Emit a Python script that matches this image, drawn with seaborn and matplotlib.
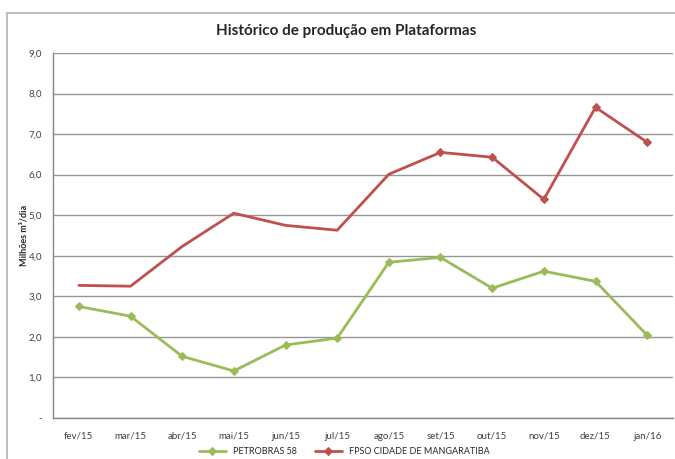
import pandas as pd
import matplotlib.pyplot as plt
import seaborn as sns
from matplotlib.patches import Rectangle

# Data
meses = ["fev/15", "mar/15", "abr/15", "mai/15", "jun/15", "jul/15",
         "ago/15", "set/15", "out/15", "nov/15", "dez/15", "jan/16"]
petrobras_58 = [2.75, 2.51, 1.52, 1.16, 1.80, 1.97, 3.84, 3.96, 3.20, 3.62, 3.37, 2.04]
fpso_mangaratiba = [3.27, 3.25, 4.23, 5.05, 4.75, 4.63, 6.01, 6.55, 6.43, 5.39, 7.66, 6.80]

df = pd.DataFrame({"Mes": list(range(len(meses))),
                   "PETROBRAS 58": petrobras_58,
                   "FPSO CIDADE DE MANGARATIBA": fpso_mangaratiba})

sns.set_style("white")
plt.rcParams["font.family"] = ["Lato", "DejaVu Sans"]

fig = plt.figure(figsize=(6.75, 4.59), dpi=100)
ax = fig.add_axes([53 / 675, 1 - 418 / 459, 620 / 675, 365 / 459])

# chart outer border (Excel style)
fig.patches.append(Rectangle((7 / 675, -0.1), 1.0, (459 - 13) / 459 + 0.1,
                             transform=fig.transFigure, fill=False,
                             edgecolor="#BFBFBF", linewidth=1.5))

sns.lineplot(data=df, x="Mes", y="PETROBRAS 58", ax=ax, color="#9BBB59",
             linewidth=2, marker="D", markersize=4.5, markeredgecolor="#9BBB59",
             label="PETROBRAS 58")
sns.lineplot(data=df, x="Mes", y="FPSO CIDADE DE MANGARATIBA", ax=ax,
             color="#C0504D", linewidth=2, marker="D", markersize=4.5,
             markeredgecolor="#C0504D", markevery=list(range(7, 12)),
             label="FPSO CIDADE DE MANGARATIBA")

ax.set_xlim(-0.5, 11.5)
ax.set_ylim(0, 9)
ax.set_yticks([i for i in range(10)])
ax.set_yticklabels(["-"] + [f"{i},0" for i in range(1, 10)], fontsize=7, color="#404040")
ax.set_xticks(list(range(12)))
ax.set_xticklabels(meses, fontsize=7, color="#404040")
ax.set_xticks([i - 0.5 for i in range(13)], minor=True)
ax.tick_params(axis="x", which="major", length=0, pad=10)
ax.tick_params(axis="x", which="minor", length=4, color="#868686", direction="out")
ax.tick_params(axis="y", length=4, color="#868686", direction="out", pad=4)
ax.yaxis.grid(True, color="#969696", linewidth=1)
ax.set_axisbelow(True)
for s in ["top", "right"]:
    ax.spines[s].set_visible(False)
for s in ["left", "bottom"]:
    ax.spines[s].set_color("#868686")
    ax.spines[s].set_linewidth(1)

ax.set_xlabel("")
ax.set_ylabel("Milhões m³/dia", fontsize=6.5, fontweight="bold")
ax.yaxis.set_label_coords(-0.04, 0.5)
fig.text(0.513, 1 - 31 / 459, "Histórico de produção em Plataformas",
         ha="center", va="center", fontsize=11, fontweight="bold")

ax.get_legend().remove()
handles, labels = ax.get_legend_handles_labels()
fig.legend(handles, labels, loc="center", bbox_to_anchor=(0.51, 1 - 452 / 459),
           ncol=2, frameon=False, fontsize=6.5, handlelength=3,
           columnspacing=2, markerscale=0.8)

fig.savefig("out.png", dpi=100)
